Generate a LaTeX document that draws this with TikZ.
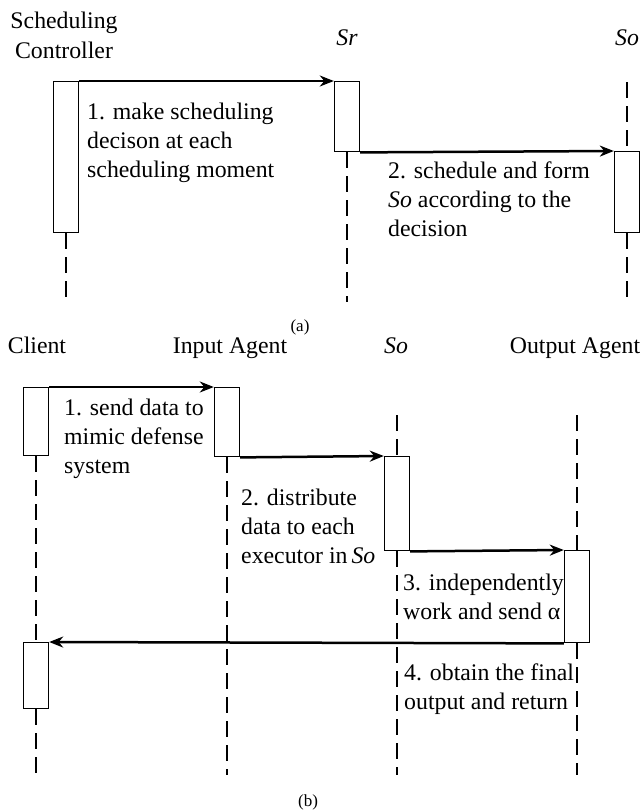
\documentclass[tikz,border=0pt]{standalone}
\usepackage{fontspec}
\setmainfont{Liberation Serif}
\usetikzlibrary{arrows.meta}
\begin{document}
\begin{tikzpicture}[x=1pt,y=-1pt,
  bar/.style={draw, fill=white, line width=1.4pt, inner sep=0pt, minimum width=25pt},
  life/.style={line width=1.4pt, dash pattern=on 16pt off 8pt},
  msg/.style={line width=2.5pt, -{Stealth[length=14pt,width=11pt,inset=4.5pt]}},
  lbl/.style={font=\fontsize{23.8}{29}\selectfont, align=left, inner sep=0pt, anchor=base west},
  head/.style={font=\fontsize{23.8}{30}\selectfont, align=center, inner sep=0pt, anchor=base},
  subcap/.style={font=\fontsize{17}{20}\selectfont, inner sep=0pt, anchor=base}]
\useasboundingbox (0,0) rectangle (641,811);

% multi-line nodes are placed by the baseline of their last line

% ---------- (a) scheduling ----------
\node[head] (hcc) at (64,58) {Scheduling\\Controller};
\node[head] (hsr) at (347,45) {\textit{Sr}};
\node[head] (hso) at (627,45) {\textit{So}};

\coordinate (soatop) at (627,82);
\coordinate (ccend)  at (66,302);
\coordinate (srend)  at (347,302);
\coordinate (soaend) at (627,302);

\node[bar, minimum height=151pt, anchor=north] (cc)  at (66,81)   {};
\node[bar, minimum height=70pt,  anchor=north] (sr)  at (347,81)  {};
\node[bar, minimum height=81pt,  anchor=north] (soa) at (627,151) {};

\draw[life] (cc.south)  -- (ccend);
\draw[life] (sr.south)  -- (srend);
\draw[life] (soatop)    -- (soa.north);
\draw[life] (soa.south) -- (soaend);

\draw[msg] (cc.north east) -- (sr.north west);
\draw[msg] (sr.south east) -- (soa.north west);

\node[lbl] (ma1) at (87,177)  {1. make scheduling\\decison at each\\scheduling moment};
\node[lbl] (ma2) at (388,236) {2. schedule and form\\\textit{So} according to the\\decision};
\node[subcap] (capa) at (300,331) {(a)};

% ---------- (b) data flow ----------
\node[head] (hcl) at (37,353)  {Client};
\node[head] (hia) at (230,353) {Input Agent};
\node[head] (hsb) at (396,353) {\textit{So}};
\node[head] (hoa) at (575,353) {Output Agent};

\coordinate (sobtop) at (397,415);
\coordinate (oatop)  at (577,415);
\coordinate (clend)  at (36,775);
\coordinate (iaend)  at (227,775);
\coordinate (sobend) at (397,775);
\coordinate (oaend)  at (577,775);

\node[bar, minimum height=68pt, anchor=north] (cl1) at (36,387)  {};
\node[bar, minimum height=69pt, anchor=north] (ia)  at (227,387) {};
\node[bar, minimum height=94pt, anchor=north] (sob) at (397,456) {};
\node[bar, minimum height=92pt, anchor=north] (oa)  at (577,550) {};
\node[bar, minimum height=66pt, anchor=north] (cl2) at (36,642)  {};

\draw[life] (cl1.south) -- (cl2.north);
\draw[life] (cl2.south) -- (clend);
\draw[life] (ia.south)  -- (iaend);
\draw[life] (sobtop)    -- (sob.north);
\draw[life] (sob.south) -- (sobend);
\draw[life] (oatop)     -- (oa.north);
\draw[life] (oa.south)  -- (oaend);

\draw[msg] (cl1.north east) -- (ia.north west);
\draw[msg] (ia.south east)  -- (sob.north west);
\draw[msg] (sob.south east) -- (oa.north west);
\draw[msg] (oa.south west)  -- (cl2.north east);

\node[lbl] (mb1) at (64,473)  {1. send data to\\mimic defense\\system};
\node[lbl] (mb2) at (241,563) {2. distribute\\data to each\\executor in\,\textit{So}};
\node[lbl] (mb3) at (403,619) {3. independently\\work and send α};
\node[lbl] (mb4) at (404,709) {4. obtain the final\\output and return};
\node[subcap] (capb) at (308,806) {(b)};
\end{tikzpicture}
\end{document}
